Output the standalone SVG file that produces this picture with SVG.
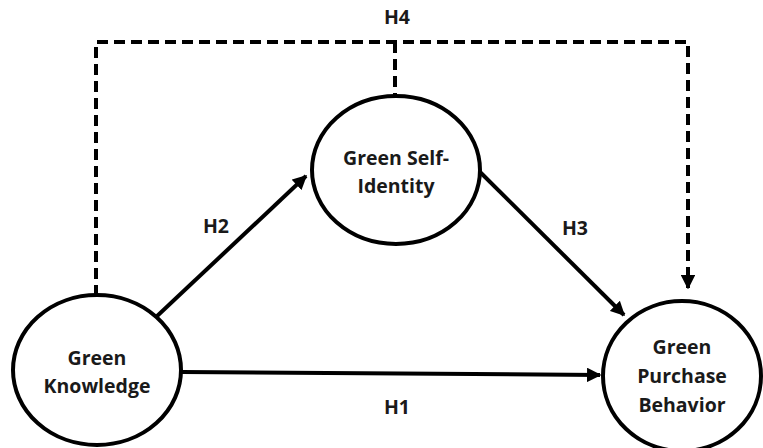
<svg xmlns="http://www.w3.org/2000/svg" width="763" height="448" viewBox="0 0 763 448">
<style>
.node{fill:#fff;stroke:#000;stroke-width:4}
.t{font-family:"Open Sans","Liberation Sans",sans-serif;font-weight:bold;font-size:19.5px;fill:#1a1a1a;text-anchor:middle}
.c{fill:none;stroke:#000;stroke-width:4}
.d{fill:none;stroke:#000;stroke-width:4;stroke-dasharray:11,6}
</style>
<defs>
<marker id="ah" viewBox="0 0 10 10" refX="9" refY="5" markerWidth="3.6" markerHeight="3.6" orient="auto" markerUnits="strokeWidth">
<path d="M0,0 L10,5 L0,10 z" fill="#000"/>
</marker>
</defs>
<g id="connectors">
<path class="d" d="M96,296 V42 H688 V288" marker-end="url(#ah)"/>
<path class="d" d="M395,42 V96"/>
<line class="c" x1="155" y1="318" x2="306" y2="176" marker-end="url(#ah)"/>
<line class="c" x1="480" y1="172" x2="624" y2="315" marker-end="url(#ah)"/>
<line class="c" x1="182" y1="372" x2="600" y2="375" marker-end="url(#ah)"/>
<text class="t" x="397" y="24">H4</text>
<text class="t" x="216" y="233">H2</text>
<text class="t" x="575" y="235">H3</text>
<text class="t" x="397" y="414">H1</text>
</g>
<g id="green-knowledge">
<ellipse class="node" cx="97" cy="370" rx="84" ry="75"/>
<text class="t" x="97" y="365">Green</text>
<text class="t" x="97" y="393">Knowledge</text>
</g>
<g id="green-self-identity">
<ellipse class="node" cx="396" cy="170" rx="84" ry="74"/>
<text class="t" x="396" y="165">Green Self-</text>
<text class="t" x="396" y="193">Identity</text>
</g>
<g id="green-purchase-behavior">
<ellipse class="node" cx="682" cy="376" rx="79" ry="75"/>
<text class="t" x="682" y="354">Green</text>
<text class="t" x="682" y="383">Purchase</text>
<text class="t" x="682" y="412">Behavior</text>
</g>
</svg>
